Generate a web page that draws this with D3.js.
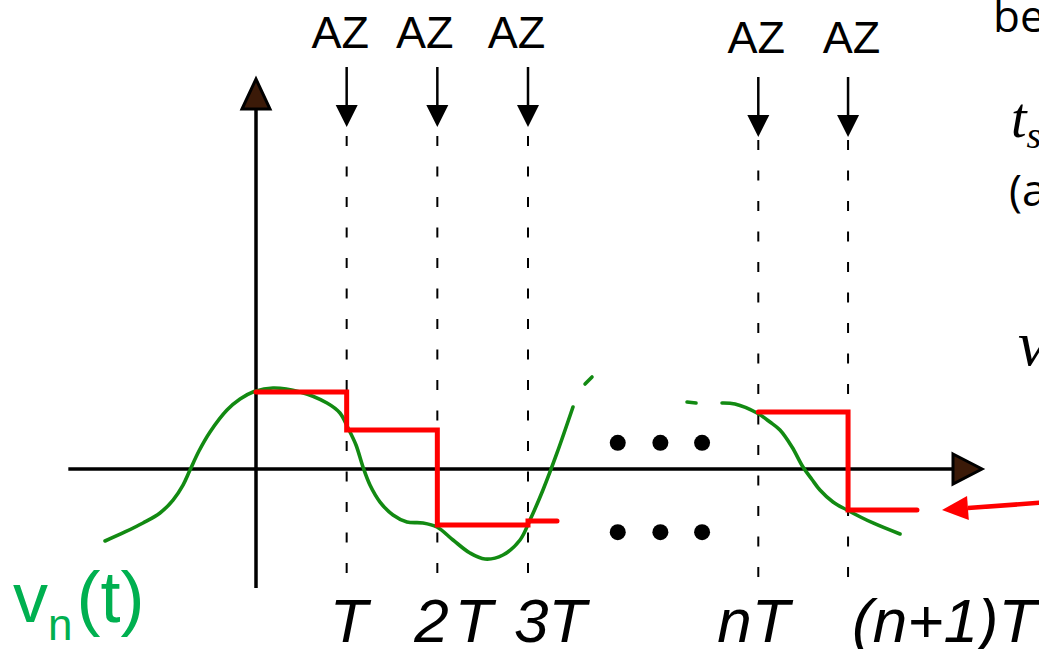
<!DOCTYPE html>
<html><head><meta charset="utf-8">
<script src="https://cdn.jsdelivr.net/npm/d3@7"></script>
<style>
html,body{margin:0;padding:0;background:#fff;overflow:hidden}
svg{display:block}
</style></head>
<body>
<svg id="chart" width="1039" height="649"></svg>
<script>
// Sampling instants, in periods T, and their labels
const sampleTimes = [1, 2, 3, 5.54, 6.53];
const sampleLabels = ["T", "2T", "3T", "nT", "(n+1)T"];
const markerText = "AZ";

// Continuous input v_n(t) as [t, v] pairs
const signalMain = [
  [-1.665,-0.935],[-1.445,-0.818],[-1.246,-0.701],[-1.059,-0.571],[-0.915,-0.403],
  [-0.805,-0.208],[-0.728,-0.013],[-0.629,0.234],[-0.507,0.481],[-0.320,0.766],
  [-0.176,0.909],[-0.033,1.000],[0.187,1.052],[0.485,1.000],[0.783,0.857],
  [0.926,0.727],[1.015,0.532],[1.103,0.312],[1.180,0.026],[1.257,-0.208],
  [1.368,-0.429],[1.511,-0.597],[1.665,-0.688],[1.842,-0.701],[1.996,-0.753],
  [2.173,-0.922],[2.360,-1.091],[2.526,-1.169],[2.724,-1.117],[2.912,-0.922],
  [3.022,-0.662],[3.165,-0.273],[3.320,0.208],[3.496,0.805]
];
const signalGapA = [[3.629,1.104],[3.706,1.195]];
const signalGapB = [[4.754,0.870],[4.853,0.857]];
const signalTail = [
  [5.140,0.857],[5.283,0.844],[5.526,0.727],[5.669,0.610],[5.779,0.506],
  [5.912,0.286],[6.033,0.026],[6.132,-0.136],[6.220,-0.273],[6.364,-0.429],
  [6.518,-0.532],[6.805,-0.701],[7.103,-0.844]
];

// Held (sampled) output: level starting at each instant
const heldFirst = [[0,1.0],[1,0.506],[2,-0.727],[3,-0.675],[3.32,-0.675]];
const heldLast = [[5.54,0.74],[6.53,-0.532],[7.29,-0.532]];

// Ellipsis dots between the two shown stretches
const ellipsisTimes = [3.99, 4.46, 4.92];
const ellipsisLevels = [0.34, -0.82];

const svg = d3.select("#chart");
const x = d3.scaleLinear().domain([0, 3]).range([256, 528]);
const y = d3.scaleLinear().domain([-1, 1]).range([546, 392]);

const green = "#128a12";
const red = "#ff0000";

// Sample instants: dashed guides
const guideTop = i => i < 3 ? 136 : 140;
const guideBottom = i => i < 3 ? 575 : 578;
svg.append("g").selectAll("line").data(sampleTimes).join("line")
  .attr("x1", d => x(d)).attr("x2", d => x(d))
  .attr("y1", (d, i) => guideTop(i)).attr("y2", (d, i) => guideBottom(i))
  .attr("stroke", "#000").attr("stroke-width", 2)
  .attr("stroke-dasharray", "10,20.5");

// Axes
const axisG = svg.append("g");
axisG.append("line")
  .attr("x1", x(-2.07)).attr("x2", 953).attr("y1", y(0)).attr("y2", y(0))
  .attr("stroke", "#000").attr("stroke-width", 3.5);
axisG.append("line")
  .attr("x1", x(0)).attr("x2", x(0)).attr("y1", 588).attr("y2", 110)
  .attr("stroke", "#000").attr("stroke-width", 3.5);
axisG.append("path")
  .attr("d", `M${953},${y(0) - 15}L${982},${y(0)}L${953},${y(0) + 15}Z`)
  .attr("fill", "#3b1a08").attr("stroke", "#000").attr("stroke-width", 3)
  .attr("stroke-linejoin", "miter");
axisG.append("path")
  .attr("d", `M${x(0) - 14},109L${x(0)},79L${x(0) + 14},109Z`)
  .attr("fill", "#3b1a08").attr("stroke", "#000").attr("stroke-width", 3)
  .attr("stroke-linejoin", "miter");

// Input signal
const line = d3.line().x(d => x(d[0])).y(d => y(d[1])).curve(d3.curveCatmullRom.alpha(0.5));
[signalMain, signalGapA, signalGapB, signalTail].forEach(seg => {
  svg.append("path").datum(seg).attr("d", line)
    .attr("fill", "none").attr("stroke", green).attr("stroke-width", 3.6)
    .attr("stroke-linecap", "round").attr("stroke-linejoin", "round");
});

// Held output staircase
const step = d3.line().x(d => x(d[0])).y(d => y(d[1])).curve(d3.curveStepAfter);
[heldFirst, heldLast].forEach(seg => {
  svg.append("path").datum(seg).attr("d", step)
    .attr("fill", "none").attr("stroke", red).attr("stroke-width", 5)
    .attr("stroke-linejoin", "miter").attr("stroke-linecap", "round");
});

// Ellipsis dots
svg.append("g").selectAll("circle")
  .data(d3.cross(ellipsisLevels, ellipsisTimes)).join("circle")
  .attr("cx", d => x(d[1])).attr("cy", d => y(d[0])).attr("r", 8).attr("fill", "#000");

// AZ markers with down arrows
const azNudge = [-6.5, -12.5, -11.5, -2, 3.5];
const azShift = i => i < 3 ? 0 : 1;
const az = svg.append("g").selectAll("g").data(sampleTimes).join("g");
az.append("text")
  .attr("x", (d, i) => x(d) + azNudge[i]).attr("y", (d, i) => 48 + 5 * azShift(i))
  .attr("text-anchor", "middle")
  .attr("font-family", "Liberation Sans, Arial, sans-serif").attr("font-size", 45)
  .attr("fill", "#000").text(markerText);
az.append("line")
  .attr("x1", d => x(d)).attr("x2", d => x(d))
  .attr("y1", (d, i) => 67 + 10 * azShift(i)).attr("y2", (d, i) => 106 + 10 * azShift(i))
  .attr("stroke", "#000").attr("stroke-width", 2.5);
az.append("path")
  .attr("d", (d, i) => {
    const tip = 127 + 10 * azShift(i), cx = x(d);
    return `M${cx - 11},${tip - 22}L${cx + 11},${tip - 22}L${cx},${tip}Z`;
  })
  .attr("fill", "#000");

// Time labels under the axis
const labelNudge = [-17, -23, -14, -41, 4];
const tl = svg.append("g").selectAll("text").data(sampleLabels).join("text")
  .attr("x", (d, i) => x(sampleTimes[i]) + labelNudge[i]).attr("y", 642)
  .attr("font-family", "Liberation Sans, Arial, sans-serif").attr("font-size", 62)
  .attr("font-style", "italic").attr("fill", "#000");
tl.each(function (d) {
  const t = d3.select(this);
  if (d === "2T") {
    t.append("tspan").text("2");
    t.append("tspan").attr("dx", 6).text("T");
  } else {
    t.text(d);
  }
});

// Signal name
const vn = svg.append("text").attr("x", 13).attr("y", 622)
  .attr("font-family", "Liberation Sans, Arial, sans-serif").attr("fill", "#00b050");
vn.append("tspan").attr("font-size", 70).text("v");
vn.append("tspan").attr("font-size", 44).attr("dy", 18).text("n");
vn.append("tspan").attr("font-size", 72).attr("dy", -18).attr("dx", 4).text("(t)");

// Side notes at the right edge
svg.append("text").attr("x", 993).attr("y", 32)
  .attr("font-family", "Open Sans, sans-serif").attr("font-size", 44)
  .attr("fill", "#000").text("be");
const ts = svg.append("text").attr("x", 1011).attr("y", 137)
  .attr("font-family", "Liberation Serif, serif").attr("font-style", "italic")
  .attr("font-size", 56).attr("fill", "#000");
ts.append("tspan").text("t");
ts.append("tspan").attr("font-size", 38).attr("dy", 11).text("s");
svg.append("text").attr("x", 1009).attr("y", 206)
  .attr("font-family", "Open Sans, sans-serif").attr("font-size", 44)
  .attr("fill", "#000").text("(a");
svg.append("text").attr("x", 1018).attr("y", 365)
  .attr("font-family", "Liberation Serif, serif").attr("font-style", "italic")
  .attr("font-size", 64).attr("fill", "#000").text("v");

// Pointer arrow toward the held output
const pTip = [942, 510], pTail = [1050, 502];
const ang = Math.atan2(pTail[1] - pTip[1], pTail[0] - pTip[0]);
const hl = 26, hw = 12;
const bx = pTip[0] + hl * Math.cos(ang), by = pTip[1] + hl * Math.sin(ang);
svg.append("line")
  .attr("x1", bx).attr("y1", by).attr("x2", pTail[0]).attr("y2", pTail[1])
  .attr("stroke", red).attr("stroke-width", 4.5);
svg.append("path")
  .attr("d", `M${pTip[0]},${pTip[1]}L${bx - hw * Math.sin(ang)},${by + hw * Math.cos(ang)}L${bx + hw * Math.sin(ang)},${by - hw * Math.cos(ang)}Z`)
  .attr("fill", red);
</script>
</body></html>
